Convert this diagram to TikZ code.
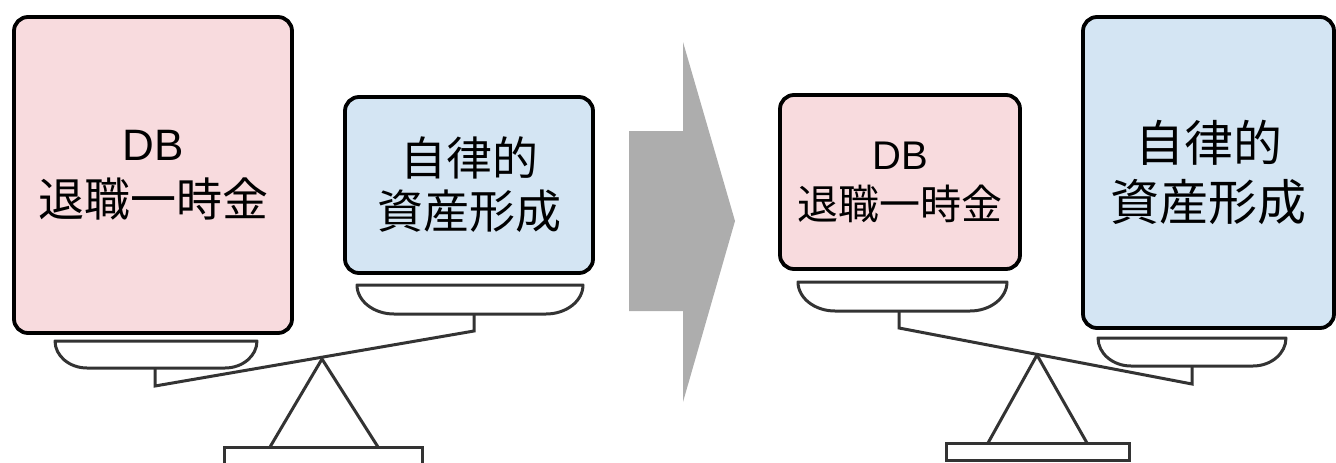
\documentclass[tikz,border=0pt]{standalone}
\usepackage{fontspec}
\setmainfont{Noto Sans CJK JP}
\newfontfamily\latinfont{Liberation Sans}
\definecolor{pinkfill}{HTML}{F8DBDE}
\definecolor{bluefill}{HTML}{D4E5F3}
\definecolor{arrowgray}{HTML}{ADADAD}
\definecolor{linegray}{HTML}{333333}
\tikzset{
  weightbox/.style={draw=black, line width=3.8pt, rounded corners=14pt, align=center, inner sep=0pt},
  panline/.style={draw=linegray, line width=3pt, fill=white, line join=round},
  beamline/.style={draw=linegray, line width=3pt, line join=miter},
}
\newcommand\drawpan[5]{%
  \draw[panline] (#1,#3) -- (#2,#3) .. controls (#2,{#3+0.55*(#4-#3)}) and ({#2-0.45*#5},#4) .. ({#2-#5},#4) -- ({#1+#5},#4) .. controls ({#1+0.45*#5},#4) and (#1,{#3+0.55*(#4-#3)}) .. (#1,#3) -- cycle;}
\begin{document}
\begin{tikzpicture}[x=1pt,y=-1pt]
\useasboundingbox (0,0) rectangle (1336,463);
\begin{scope}
\clip (0,0) rectangle (1336,463);
% ---------- left scale ----------
\node[weightbox, fill=pinkfill, minimum width=278pt, minimum height=316pt,
      font=\fontsize{46}{56}\selectfont] (lpink) at (153,175) {{\latinfont\fontsize{44}{56}\selectfont DB}\\退職一時金};
\node[weightbox, fill=bluefill, minimum width=248pt, minimum height=176pt,
      font=\fontsize{46}{53}\selectfont] (lblue) at (469,185) {自律的\\資産形成};
\drawpan{55}{257}{341}{368}{32}
\drawpan{357}{583}{285}{314}{37}
\coordinate (lstemA) at (155,368);
\coordinate (lstemB) at (155,386);
\coordinate (rstemA) at (474,314);
\coordinate (rstemB) at (474,331);
\coordinate (lfulc) at (322,359);
\draw[beamline] (lstemA) -- (lstemB) -- (rstemB) -- (rstemA);
\draw[beamline, line join=round] (270,447) -- (lfulc) -- (378,447);
\draw[panline, line join=miter] (224,447) rectangle (422,475);
% ---------- arrow ----------
\fill[arrowgray] (629,131) -- (683,131) -- (683,42) -- (735,221) -- (683,402) -- (683,311) -- (629,311) -- cycle;
% ---------- right scale ----------
\node[weightbox, fill=pinkfill, minimum width=240pt, minimum height=174pt,
      font=\fontsize{41}{50}\selectfont] (rpink) at (900,182) {{\latinfont\fontsize{40}{50}\selectfont DB}\\退職一時金};
\node[weightbox, fill=bluefill, minimum width=251pt, minimum height=311pt,
      font=\fontsize{49}{59}\selectfont] (rblue) at (1208.5,172.5) {自律的\\資産形成};
\drawpan{798}{1007}{282}{311}{37}
\drawpan{1098}{1286}{338}{366}{33}
\coordinate (r1stemA) at (899,311);
\coordinate (r1stemB) at (899,328);
\coordinate (r2stemA) at (1192,366);
\coordinate (r2stemB) at (1192,384);
\coordinate (rfulc) at (1037,355);
\draw[beamline] (r1stemA) -- (r1stemB) -- (r2stemB) -- (r2stemA);
\draw[beamline, line join=round] (988,443) -- (rfulc) -- (1087,443);
\draw[panline, line join=miter] (946,443) rectangle (1129,460);
\end{scope}
\end{tikzpicture}
\end{document}
